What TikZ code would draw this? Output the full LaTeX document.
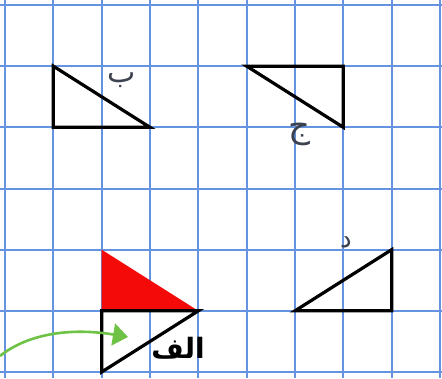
\documentclass[tikz,border=0pt]{standalone}
\usepackage{fontspec}
\usetikzlibrary{arrows.meta}
\TeXXeTstate=1
\newfontfamily\arabicfont[Script=Arabic]{DejaVu Sans}
\definecolor{gridblue}{RGB}{100,148,225}
\definecolor{arrowgreen}{RGB}{110,195,70}
\definecolor{labelgray}{RGB}{60,65,80}
\definecolor{trired}{RGB}{245,10,10}
\tikzset{
  gridline/.style={draw=gridblue, line width=2pt},
  tri/.style={draw=black, line width=3.2pt, line join=miter},
  lbl/.style={font=\arabicfont\fontsize{30}{32}\selectfont, text=labelgray, inner sep=0pt},
}
\begin{document}
\begin{tikzpicture}[x=1pt,y=-1pt]
\useasboundingbox (0,0) rectangle (442,378);
\fill[white] (0,0) rectangle (442,378);
% grid: vertical lines
\draw[gridline] (5,0) -- (5,378) (53.33,0) -- (53.33,378) (101.67,0) -- (101.67,378)
  (150,0) -- (150,378) (198.33,0) -- (198.33,378) (246.67,0) -- (246.67,378)
  (295,0) -- (295,378) (343.33,0) -- (343.33,378) (391.67,0) -- (391.67,378)
  (440,0) -- (440,378);
% grid: horizontal lines
\draw[gridline] (0,5) -- (442,5) (0,66.17) -- (442,66.17) (0,127.33) -- (442,127.33)
  (0,188.5) -- (442,188.5) (0,249.67) -- (442,249.67) (0,310.83) -- (442,310.83)
  (0,372) -- (442,372);
% named grid points
\coordinate (b1) at (53.33,66.17);
\coordinate (b2) at (53.33,127.33);
\coordinate (b3) at (150,127.33);
\coordinate (j1) at (246.67,66.17);
\coordinate (j2) at (343.33,66.17);
\coordinate (j3) at (343.33,127.33);
\coordinate (d1) at (295,310.83);
\coordinate (d2) at (391.67,249.67);
\coordinate (d3) at (391.67,310.83);
\coordinate (a1) at (101.67,310.83);
\coordinate (a2) at (198.33,310.83);
\coordinate (a3) at (101.67,372);
\coordinate (r1) at (101.67,249.67);
% red triangle
\fill[trired] (r1) -- (a1) -- (a2) -- cycle;
% triangles
\draw[tri] (b1) -- (b2) -- (b3) -- cycle;
\draw[tri] (j1) -- (j2) -- (j3) -- cycle;
\draw[tri] (d1) -- (d2) -- (d3) -- cycle;
\draw[tri] (a1) -- (a2) -- (a3) -- cycle;
% labels
\node[lbl] (lb) at (122,80) {\beginR ب\endR};
\node[lbl, font=\arabicfont\fontsize{34}{36}\selectfont] (lj) at (299,134) {\beginR ج\endR};
\node[lbl, font=\arabicfont\fontsize{26}{28}\selectfont] (ld) at (346,242) {\beginR د\endR};
\node[lbl, text=black, font=\arabicfont\bfseries\fontsize{28}{30}\selectfont] (la) at (178,348) {\beginR الف\endR};
% green arrow
\coordinate (arrS) at (0,356);
\coordinate (arrE) at (128,337);
\draw[arrowgreen, line width=2.6pt, -{Triangle[length=15pt,width=22pt]}]
  (arrS) .. controls (30,332) and (75,328) .. (arrE);
\end{tikzpicture}
\end{document}
